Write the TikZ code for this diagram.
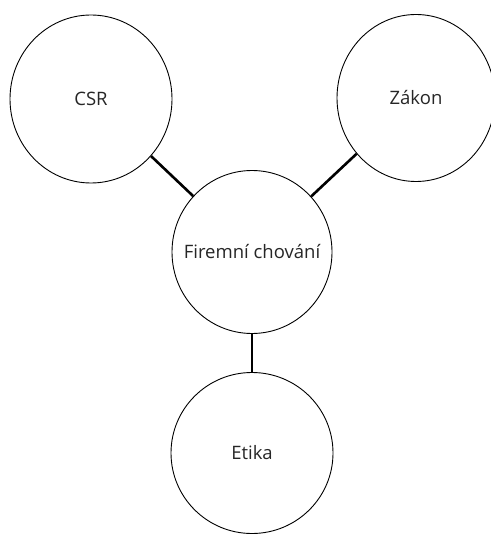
\documentclass[tikz,border=0pt]{standalone}
\usepackage{fontspec}
\setmainfont{Open Sans}
\usetikzlibrary{shapes.geometric}

\begin{document}
\begin{tikzpicture}[x=1pt, y=-1pt,
    bubble/.style={draw, ellipse, line width=0.9pt, inner sep=0pt,
      label={[text=black!85, font=\fontsize{18.5}{22}\selectfont]center:#1}},
    link/.style={line width=2.6pt}]
        \useasboundingbox (0,0) rectangle (490,534);
        \node[bubble=CSR, minimum width=162pt, minimum height=168pt]
          (CSR) at (91, 99) {};
        \node[bubble=Zákon, minimum width=158pt, minimum height=167pt]
          (ZAK) at (416, 98) {};
        \node[bubble=Firemní chování, minimum width=160pt, minimum height=163pt]
          (FIRM) at (252, 252) {};
        \node[bubble=Etika, minimum width=162pt, minimum height=161pt]
          (ETI) at (252, 453) {};
        \draw[link] (CSR) -- (FIRM);
        \draw[link] (ZAK) -- (FIRM);
        \draw[link] (FIRM.south) -- (ETI.north);
      \end{tikzpicture}
\end{document}
